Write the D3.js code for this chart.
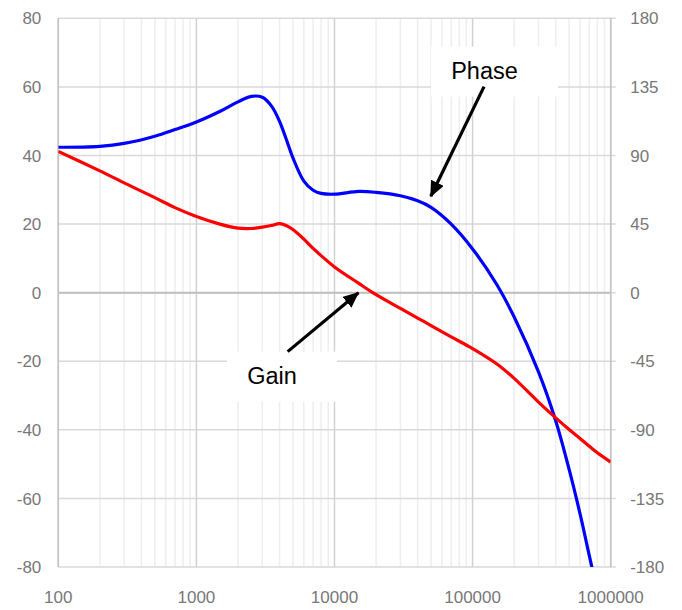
<!DOCTYPE html>
<html>
<head>
<meta charset="utf-8">
<script src="https://cdn.jsdelivr.net/npm/d3@7"></script>
<style>
  html, body { margin: 0; padding: 0; background: #fff; }
  svg { display: block; }
</style>
</head>
<body>
<div id="chart"></div>
<script>
// ---------- Data ----------
const freq = [100, 200, 300, 500, 700, 1000, 1500, 2000, 2500, 3000, 3500, 4000, 4500, 5000,
  6000, 7000, 8000, 10000, 15000, 20000, 30000, 40000, 50000, 70000, 100000, 150000, 200000,
  300000, 400000, 500000, 600000, 700000, 800000, 1000000];

const gain = [41.2, 35.5, 32.0, 27.7, 24.8, 22.2, 19.9, 18.8, 18.7, 19.1, 19.6, 20.1, 19.5, 18.4,
  15.6, 12.9, 10.8, 7.5, 2.7, -0.6, -4.6, -7.4, -9.6, -12.9, -16.3, -20.8, -25.0,
  -31.9, -36.5, -39.9, -42.5, -44.8, -46.7, -49.4];

const phase = [95.4, 96.0, 97.9, 102.6, 107.0, 112.0, 119.2, 125.2, 128.8, 128.2, 122.4, 112.4, 100, 88.4,
  73.2, 67.2, 65.1, 64.6, 66.4, 65.8, 63.6, 60.3, 56.0, 45.0, 28.7, 5.2, -16.0,
  -52.0, -84.2, -116.0, -145.2, -172.6, -196, null];

const xTicks = [100, 1000, 10000, 100000, 1000000];
const gainTicks = [-80, -60, -40, -20, 0, 20, 40, 60, 80];
const phaseTicks = [-180, -135, -90, -45, 0, 45, 90, 135, 180];

// annotations: label position and arrow, in data units (axis: "gain" or "phase")
const notes = [
  { text: "Phase", axis: "phase", labelF: 144000, labelV: 145, tailF: 121000, tailV: 135.2, tipF: 49800, tipV: 63.2, boxW: 127 },
  { text: "Gain", axis: "gain", labelF: 4170, labelV: -24.5, tailF: 4580, tailV: -17.2, tipF: 14900, tipV: 0, boxW: 110 }
];

// ---------- Layout ----------
const W = 682, H = 610;
const margin = { top: 18.3, right: 71.3, bottom: 43, left: 58.3 };
const iw = W - margin.left - margin.right;
const ih = H - margin.top - margin.bottom;

const svg = d3.select("#chart").append("svg")
  .attr("width", W)
  .attr("height", H)
  .style("font-family", "'Liberation Sans', Arial, sans-serif");

const g = svg.append("g").attr("transform", `translate(${margin.left},${margin.top})`);

const x = d3.scaleLog().domain([100, 1000000]).range([0, iw]);
const yG = d3.scaleLinear().domain([-80, 80]).range([ih, 0]);
const yP = d3.scaleLinear().domain([-180, 180]).range([ih, 0]);

// ---------- Grid ----------
const minor = [];
for (let d = 100; d < 1000000; d *= 10) {
  for (let k = 2; k <= 9; k++) minor.push(d * k);
}

g.append("g").selectAll("line")
  .data(minor)
  .join("line")
  .attr("x1", d => x(d)).attr("x2", d => x(d))
  .attr("y1", 0).attr("y2", ih)
  .attr("stroke", "#eeeeee")
  .attr("stroke-width", 1.5);

g.append("g").selectAll("line")
  .data(gainTicks)
  .join("line")
  .attr("x1", 0).attr("x2", iw + 5)
  .attr("y1", d => yG(d)).attr("y2", d => yG(d))
  .attr("stroke", "#d9d9d9")
  .attr("stroke-width", 1.5);

g.append("g").selectAll("line")
  .data(xTicks)
  .join("line")
  .attr("x1", d => x(d)).attr("x2", d => x(d))
  .attr("y1", 0).attr("y2", ih)
  .attr("stroke", "#d2d2d2")
  .attr("stroke-width", 1.5);

// axis lines
g.append("line")
  .attr("x1", 0).attr("x2", iw)
  .attr("y1", yG(0)).attr("y2", yG(0))
  .attr("stroke", "#bfbfbf").attr("stroke-width", 2);

g.append("line")
  .attr("x1", 0).attr("x2", 0)
  .attr("y1", 0).attr("y2", ih)
  .attr("stroke", "#c4c4c4").attr("stroke-width", 1.5);

g.append("line")
  .attr("x1", iw).attr("x2", iw)
  .attr("y1", 0).attr("y2", ih)
  .attr("stroke", "#c4c4c4").attr("stroke-width", 1.5);

// ---------- Tick labels ----------
const labelColor = "#787878";
const fs = 17;

g.append("g").selectAll("text")
  .data(gainTicks)
  .join("text")
  .attr("x", -17)
  .attr("y", d => yG(d))
  .attr("dy", "0.36em")
  .attr("text-anchor", "end")
  .attr("fill", labelColor)
  .style("font-size", fs + "px")
  .text(d => d);

g.append("g").selectAll("text")
  .data(phaseTicks)
  .join("text")
  .attr("x", iw + 19.5)
  .attr("y", d => yP(d))
  .attr("dy", "0.36em")
  .attr("text-anchor", "start")
  .attr("fill", labelColor)
  .style("font-size", fs + "px")
  .text(d => d);

g.append("g").selectAll("text")
  .data(xTicks)
  .join("text")
  .attr("x", d => x(d))
  .attr("y", ih + 36)
  .attr("text-anchor", "middle")
  .attr("fill", labelColor)
  .style("font-size", fs + "px")
  .text(d => d);

// ---------- Curves ----------
g.append("clipPath").attr("id", "plotClip")
  .append("rect").attr("width", iw).attr("height", ih);

const smooth = d3.curveCatmullRom.alpha(0.5);

const gainLine = d3.line()
  .x((d, i) => x(freq[i]))
  .y(d => yG(d))
  .curve(smooth);

const phaseLine = d3.line()
  .defined(d => d !== null)
  .x((d, i) => x(freq[i]))
  .y(d => yP(d))
  .curve(smooth);

const curves = g.append("g").attr("clip-path", "url(#plotClip)");

curves.append("path")
  .attr("d", phaseLine(phase))
  .attr("fill", "none")
  .attr("stroke", "#0000ff")
  .attr("stroke-width", 3.2);

curves.append("path")
  .attr("d", gainLine(gain))
  .attr("fill", "none")
  .attr("stroke", "#ff0000")
  .attr("stroke-width", 3.2);

// ---------- Annotations ----------
svg.append("defs").append("marker")
  .attr("id", "head")
  .attr("markerUnits", "userSpaceOnUse")
  .attr("viewBox", "0 0 16 14")
  .attr("refX", 15).attr("refY", 7)
  .attr("markerWidth", 16).attr("markerHeight", 14)
  .attr("orient", "auto")
  .append("path")
  .attr("d", "M0,0 L16,7 L0,14 Z")
  .attr("fill", "#000");

const yOf = n => (n.axis === "gain" ? yG : yP);

const note = g.append("g").selectAll("g")
  .data(notes)
  .join("g");

note.append("rect")
  .attr("x", d => x(d.labelF) - d.boxW / 2)
  .attr("y", d => yOf(d)(d.labelV) - 25)
  .attr("width", d => d.boxW)
  .attr("height", 50)
  .attr("fill", "#fff");

note.append("text")
  .attr("x", d => x(d.labelF) - 10)
  .attr("y", d => yOf(d)(d.labelV) + 7)
  .attr("text-anchor", "middle")
  .attr("fill", "#000")
  .style("font-size", "23.5px")
  .text(d => d.text);

note.append("line")
  .attr("x1", d => x(d.tailF))
  .attr("y1", d => yOf(d)(d.tailV))
  .attr("x2", d => x(d.tipF))
  .attr("y2", d => yOf(d)(d.tipV))
  .attr("stroke", "#000")
  .attr("stroke-width", 3.2)
  .attr("marker-end", "url(#head)");
</script>
</body>
</html>
